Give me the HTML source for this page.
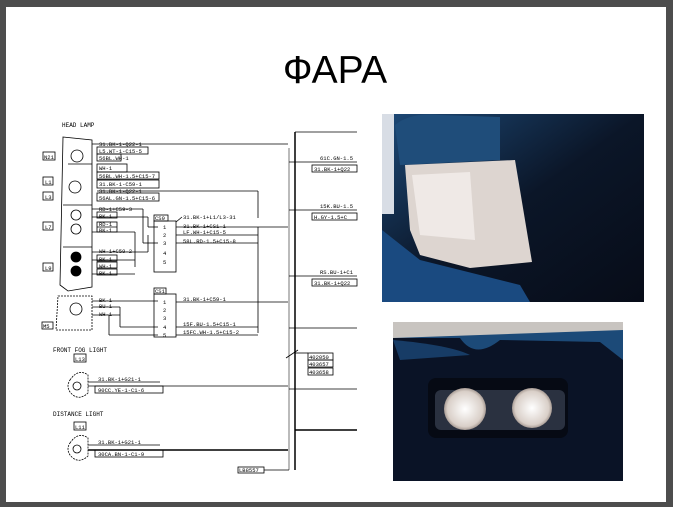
<!DOCTYPE html>
<html><head><meta charset="utf-8"><style>
html,body{margin:0;padding:0;}
body{width:673px;height:507px;background:#4d4d4d;position:relative;overflow:hidden;}
#slide{position:absolute;left:6px;top:7px;width:660px;height:495px;background:#fff;}
svg{position:absolute;left:0;top:0;}
</style></head><body>
<div id="slide"></div>
<svg width="673" height="507" viewBox="0 0 673 507" font-family="Liberation Mono, monospace">
<text x="335" y="83" font-family="Liberation Sans, sans-serif" font-size="39" text-anchor="middle" fill="#000">ФАРА</text>
<g font-size="6" fill="#000">
<text x="62" y="127">HEAD LAMP</text>
<text x="53" y="352">FRONT FOG LIGHT</text>
<text x="53" y="416">DISTANCE LIGHT</text>
</g>
<g fill="none" stroke="#000" stroke-width="0.8">
<!-- side boxes -->
<rect x="43" y="152" width="12" height="8"/><rect x="43" y="177" width="10" height="8"/><rect x="43" y="192" width="10" height="8"/>
<rect x="43" y="222" width="10" height="8"/><rect x="43" y="263" width="10" height="8"/><rect x="42" y="322" width="11" height="7"/>
<rect x="74" y="354" width="12" height="8"/><rect x="74" y="422" width="12" height="8"/>
<!-- headlamp outline -->
<path d="M63 137 L92 140 L92 287 L68 291 L60 285 Z"/>
<line x1="63" y1="205" x2="92" y2="205"/><line x1="63" y1="247" x2="92" y2="247"/><line x1="68" y1="164" x2="92" y2="164"/>
<path d="M58 296 L92 296 L92 330 L56 330 Z" stroke-dasharray="2 1"/>
<!-- lamps -->
<circle cx="77" cy="156" r="6"/><circle cx="75" cy="187" r="6"/>
<circle cx="76" cy="215" r="5"/><circle cx="76" cy="229" r="5"/>
<circle cx="76" cy="257" r="5" fill="#000"/><circle cx="76" cy="271" r="5" fill="#000"/>
<circle cx="76" cy="309" r="6"/>
<path d="M70 380 Q78 368 88 375 L88 393 Q78 402 70 392 Q66 386 70 380Z" stroke-dasharray="2 1"/>
<circle cx="77" cy="386" r="4"/>
<path d="M70 443 Q78 431 88 438 L88 456 Q78 465 70 455 Q66 449 70 443Z" stroke-dasharray="2 1"/>
<circle cx="77" cy="449" r="4"/>
<!-- bus -->
<line x1="289" y1="148" x2="289" y2="470" stroke="#777" stroke-width="1"/>
<line x1="295" y1="132" x2="295" y2="470" stroke-width="1.5"/>
<line x1="295" y1="132" x2="357" y2="132"/>
<line x1="289" y1="162" x2="357" y2="162"/>
<line x1="289" y1="210" x2="357" y2="210"/>
<line x1="289" y1="276" x2="357" y2="276"/>
<line x1="289" y1="328" x2="357" y2="328"/>
<line x1="289" y1="389" x2="357" y2="389"/>
<line x1="295" y1="430" x2="357" y2="430" stroke-width="1.5"/>
<rect x="312" y="165" width="45" height="7"/><rect x="312" y="213" width="45" height="7"/><rect x="312" y="279" width="45" height="7"/>
<!-- headlamp wires -->
<line x1="92" y1="144" x2="288" y2="144"/>
<rect x="97" y="147" width="51" height="7"/>
<rect x="97" y="154" width="24" height="7"/>
<rect x="97" y="164" width="30" height="8"/>
<rect x="97" y="172" width="62" height="7"/>
<line x1="97" y1="180" x2="120" y2="180"/>
<rect x="97" y="180" width="62" height="8"/>
<line x1="97" y1="191" x2="258" y2="191"/><line x1="258" y1="191" x2="258" y2="218"/>
<rect x="97" y="193" width="62" height="8"/>
<line x1="92" y1="209" x2="143" y2="209"/><line x1="143" y1="209" x2="143" y2="243"/><line x1="143" y1="243" x2="158" y2="243"/>
<rect x="97" y="212" width="20" height="6"/><line x1="92" y1="217" x2="148" y2="217"/><line x1="148" y1="217" x2="148" y2="227"/><line x1="148" y1="227" x2="158" y2="227"/>
<rect x="97" y="222" width="20" height="10"/><line x1="97" y1="227" x2="117" y2="227"/>
<line x1="92" y1="232" x2="135" y2="232"/><line x1="135" y1="232" x2="135" y2="267"/>
<line x1="92" y1="252" x2="148" y2="252"/><line x1="148" y1="252" x2="148" y2="235"/>
<rect x="97" y="255" width="20" height="6"/><rect x="97" y="262" width="20" height="6"/><rect x="97" y="269" width="20" height="6"/>
<line x1="92" y1="274" x2="135" y2="274"/><line x1="92" y1="260" x2="135" y2="260"/>
<!-- M5 wires -->
<line x1="92" y1="301" x2="158" y2="301"/><line x1="92" y1="307" x2="120" y2="307"/>
<line x1="92" y1="315" x2="120" y2="315"/><line x1="120" y1="307" x2="120" y2="327"/><line x1="120" y1="327" x2="158" y2="327"/>
<line x1="109" y1="315" x2="109" y2="335"/><line x1="109" y1="335" x2="158" y2="335"/>
<!-- connectors -->
<rect x="154" y="221" width="22" height="51"/><rect x="154" y="215" width="14" height="6"/>
<rect x="154" y="294" width="22" height="43"/><rect x="154" y="288" width="12" height="6"/>
<line x1="176" y1="227" x2="288" y2="227"/><line x1="176" y1="235" x2="258" y2="235"/><line x1="176" y1="243" x2="258" y2="243"/>
<line x1="258" y1="227" x2="258" y2="333"/>
<line x1="176" y1="302" x2="288" y2="302"/>
<line x1="176" y1="327" x2="258" y2="327"/><line x1="176" y1="335" x2="258" y2="335"/>
<line x1="176" y1="222" x2="182" y2="217"/>
<!-- fog/distance wires -->
<line x1="88" y1="382" x2="160" y2="382"/><line x1="88" y1="386" x2="288" y2="386"/><rect x="95" y="386" width="68" height="7"/>
<line x1="88" y1="445" x2="160" y2="445"/><line x1="88" y1="450" x2="288" y2="450" stroke-width="1.5"/><rect x="95" y="450" width="68" height="7"/>
<rect x="308" y="353" width="25" height="7"/><rect x="308" y="360" width="25" height="7"/><rect x="308" y="368" width="25" height="7"/>
<line x1="295" y1="353" x2="308" y2="353"/><line x1="286" y1="358" x2="298" y2="350"/>
<rect x="238" y="467" width="26" height="6"/><line x1="264" y1="470" x2="289" y2="470"/>
</g>
<g font-size="5.5" fill="#000">
<text x="99" y="146">31.BK-1-Q22-1</text><text x="99" y="153">L5.WT-1-C15-5</text><text x="99" y="160">56BL.WH-1</text>
<text x="99" y="170">WH-1</text><text x="99" y="178">56BL.WH-1.5+C15-7</text>
<text x="99" y="186">31.BK-1-C59-1</text><text x="99" y="193">31.BK-1-Q22-1</text><text x="99" y="200">56AL.GN-1.5+C15-6</text>
<text x="99" y="211">RD-1+C59-3</text><text x="99" y="218">BK-1</text><text x="99" y="226">RD-1</text><text x="99" y="232">BK-1</text>
<text x="99" y="253">WH-1+C59-2</text><text x="99" y="261">BK-1</text><text x="99" y="268">WH-1</text><text x="99" y="275">BK-1</text>
<text x="99" y="302">BK-1</text><text x="99" y="308">BU-1</text><text x="99" y="316">WH-1</text>
<text x="155" y="220">CS9</text><text x="155" y="293">CS1</text>
<text x="163" y="229">1</text><text x="163" y="237">2</text><text x="163" y="245">3</text><text x="163" y="255">4</text><text x="163" y="264">5</text>
<text x="163" y="304">1</text><text x="163" y="312">2</text><text x="163" y="320">3</text><text x="163" y="329">4</text><text x="163" y="337">5</text>
<text x="183" y="219">31.BK-1+L1/L3-31</text><text x="183" y="228">31.BK-1+CS1-1</text><text x="183" y="234">LF.WH-1+C15-5</text><text x="183" y="243">58L.RD-1.5+C15-8</text>
<text x="183" y="301">31.BK-1+C59-1</text><text x="183" y="326">15F.BU-1.5+C15-1</text><text x="183" y="334">15FC.WH-1.5+C15-2</text>
<text x="320" y="160">61C.GN-1.5</text><text x="314" y="171">31.BK-1+Q22</text>
<text x="320" y="208">15K.BU-1.5</text><text x="314" y="219">H.GY-1.5+C</text>
<text x="320" y="274">RS.BU-1+C1</text><text x="314" y="285">31.BK-1+Q22</text>
<text x="44" y="159">N21</text><text x="45" y="184">L1</text><text x="45" y="199">L3</text><text x="45" y="229">L7</text><text x="45" y="270">L9</text><text x="43" y="328">M5</text>
<text x="75" y="361">L13</text><text x="75" y="429">L11</text>
<text x="98" y="381">31.BK-1+G21-1</text><text x="98" y="392">90CC.YE-1-C1-6</text>
<text x="98" y="444">31.BK-1+G21-1</text><text x="98" y="456">30CA.BN-1-C1-9</text>
<text x="309" y="359">402050</text><text x="309" y="366">403657</text><text x="309" y="374">403658</text>
<text x="239" y="472">LB8557</text>
</g>
<!-- photo 1 -->
<defs>
<linearGradient id="g1" x1="0" y1="0" x2="1" y2="1"><stop offset="0" stop-color="#1d4a78"/><stop offset="0.5" stop-color="#0b1628"/><stop offset="1" stop-color="#070c18"/></linearGradient>
<radialGradient id="lg" cx="0.5" cy="0.5" r="0.6"><stop offset="0" stop-color="#fff"/><stop offset="0.7" stop-color="#d9cfc8"/><stop offset="1" stop-color="#6b5c55"/></radialGradient>
</defs>
<rect x="382" y="114" width="262" height="188" fill="url(#g1)"/>
<path d="M395 125 Q410 112 440 115 L500 117 L500 160 L400 165 Z" fill="#1f4d7a"/>
<path d="M382 230 L420 260 L520 285 L530 302 L382 302Z" fill="#1a4a80"/>
<path d="M405 165 L515 160 L532 262 L470 268 L420 255 L410 230Z" fill="#ddd5d0"/>
<path d="M412 175 L470 172 L475 240 L420 235Z" fill="#efe9e6"/>
<rect x="382" y="114" width="12" height="100" fill="#d8dde5"/>
<!-- photo 2 -->
<rect x="393" y="322" width="230" height="159" fill="#0a1326"/>
<rect x="393" y="322" width="230" height="16" fill="#c8c4c0"/>
<path d="M393 338 L460 338 Q475 360 500 340 L600 342 L623 360 L623 330 Z" fill="#1c4a78"/>
<path d="M393 340 Q450 345 470 355 L400 360Z" fill="#173c66"/>
<rect x="428" y="378" width="140" height="60" rx="8" fill="#060a14"/>
<rect x="435" y="390" width="130" height="40" rx="6" fill="#2a3140"/>
<circle cx="465" cy="409" r="21" fill="url(#lg)"/>
<circle cx="532" cy="408" r="20" fill="url(#lg)"/>
</svg>
</body></html>
